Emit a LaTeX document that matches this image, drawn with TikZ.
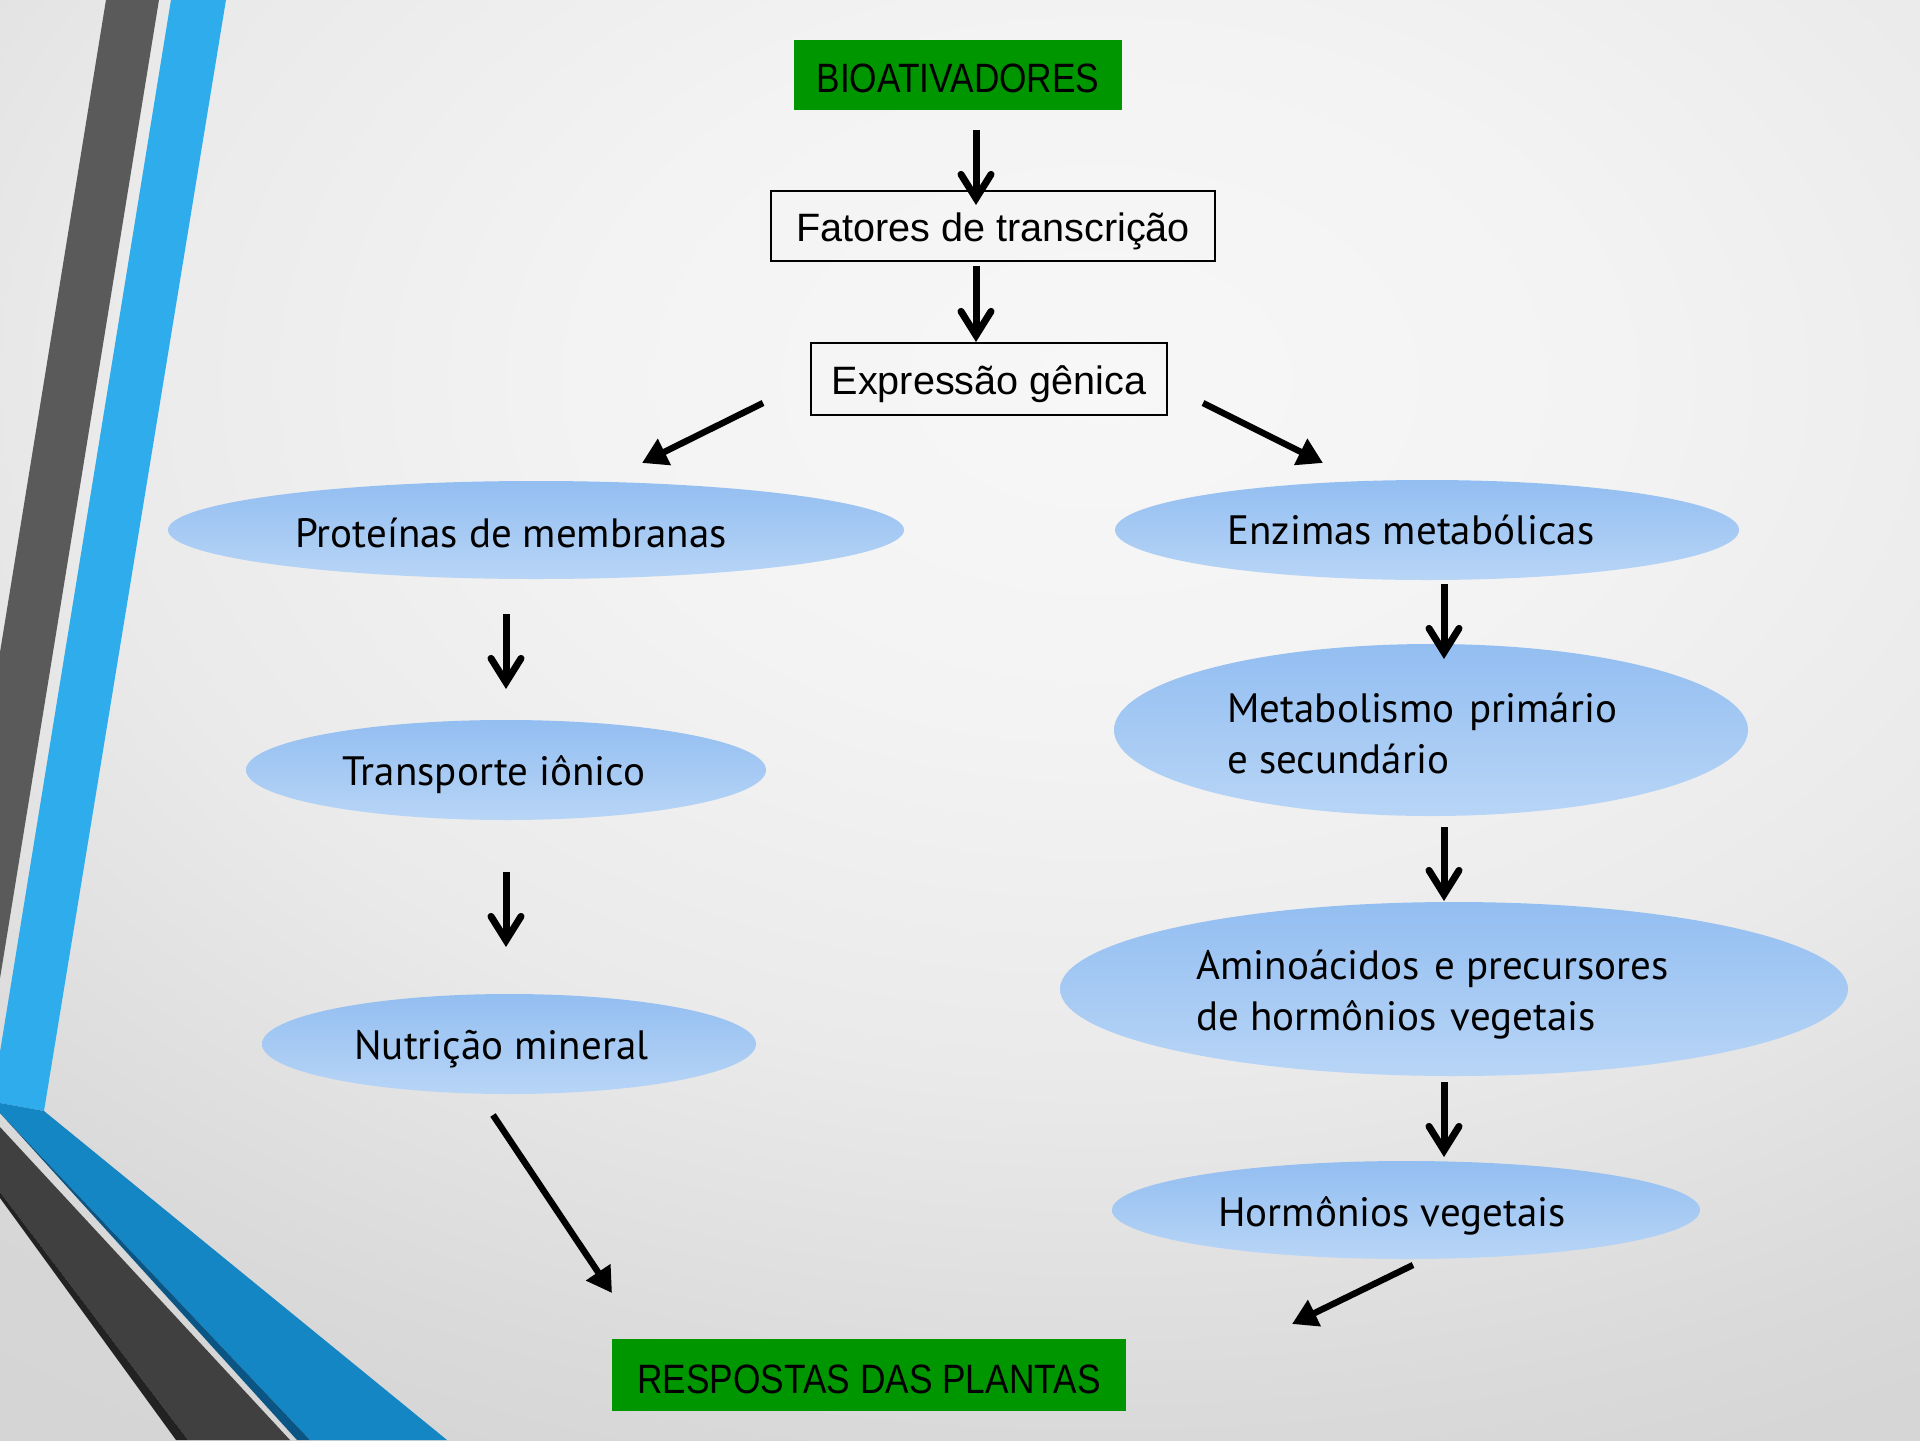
\documentclass[tikz,border=0pt]{standalone}
\usepackage{fontspec}
\setmainfont{PT Sans}
\newfontfamily\boxfont{Liberation Sans}
\newfontfamily\capfont[FakeStretch=0.86]{Liberation Sans}
\usetikzlibrary{arrows.meta,shapes.geometric}

\definecolor{stripeGray}{HTML}{5A5A5A}
\definecolor{stripeBlue}{HTML}{2FACEB}
\definecolor{bandBlue}{HTML}{1386C3}
\definecolor{bandShade}{HTML}{0B5584}
\definecolor{bandGray}{HTML}{404040}
\definecolor{bandDark}{HTML}{222222}
\definecolor{leaf}{HTML}{009600}
\definecolor{ellTop}{HTML}{93BEF1}
\definecolor{ellBot}{HTML}{B8D5F6}

% light page background, brightest in the upper middle
\pgfdeclareradialshading{pageshade}{\pgfpointorigin}{%
  color(0bp)=(rgb,255:red,247;green,247;blue,247);
  color(15bp)=(rgb,255:red,243;green,243;blue,243);
  color(30bp)=(rgb,255:red,234;green,234;blue,234);
  color(45bp)=(rgb,255:red,218;green,218;blue,218);
  color(50bp)=(rgb,255:red,214;green,214;blue,214);
  color(75bp)=(rgb,255:red,210;green,210;blue,210)}

\begin{document}
\begin{tikzpicture}[x=0.5pt,y=-0.5pt,
  bubble/.style={ellipse, inner sep=0pt, top color=ellTop, bottom color=ellBot, draw=none},
  txt/.style={anchor=west, inner sep=0pt, align=left,
    font=\fontsize{20.5pt}{25.5pt}\selectfont},
  frame/.style={draw=black, line width=0.9pt, inner sep=0pt,
    text height=15.5pt, text depth=0pt,
    font=\boxfont\fontsize{19.8pt}{22pt}\selectfont},
  greenbox/.style={fill=leaf, inner sep=0pt, text depth=0pt,
    font=\capfont\fontsize{20.5pt}{24pt}\selectfont},
  vdown/.style={line width=3.5pt,
    -{Straight Barb[length=12pt,width=15pt,line cap=round,line join=miter]}},
  diag/.style={line width=3.2pt, -{Triangle[length=12.5pt,width=14pt]}},
]
\useasboundingbox (0,0) rectangle (1920,1440);

% background
\begin{scope}
\clip (0,0) rectangle (1920,1440);
\begin{scope}
  \pgftransformshift{\pgfpointxy{1100}{380}}
  \pgftransformxscale{16.94}
  \pgftransformyscale{11.46}
  \pgflowlevelsynccm
  \pgfuseshading{pageshade}
\end{scope}

% slanted stripes on the left
\fill[stripeGray] (107.6,-10) -- (160.6,-10) -- (-3.5,1000) -- (-56.5,1000) -- cycle;
\fill[stripeBlue] (172.6,-10) -- (227.6,-10) -- (44,1111) -- (0,1103) -- (0,1052) -- cycle;

% bands at the lower left corner
\fill[bandBlue] (0,1103) -- (44,1111) -- (447,1440) -- (310,1440) -- (0,1113) -- cycle;
\fill[bandShade] (0,1113) -- (310,1440) -- (297,1440) -- cycle;
\fill[bandGray] (0,1127) -- (290,1440) -- (188,1440) -- (0,1192) -- cycle;
\fill[bandDark] (0,1192) -- (188,1440) -- (176,1440) -- (0,1198) -- cycle;
\end{scope}

% boxes
\node[greenbox, text height=17.2pt, minimum width=164pt, minimum height=35pt] (bio) at (958,75) {BIOATIVADORES};
\node[frame, minimum width=222pt, minimum height=35pt] (fat) at (993,226) {Fatores de transcrição};
\node[frame, minimum width=178pt, minimum height=36pt] (exp) at (989,379) {Expressão gênica};
\node[greenbox, text height=18.5pt, minimum width=257pt, minimum height=36pt] (resp) at (869,1375) {RESPOSTAS DAS PLANTAS};

% left branch
\node[bubble, minimum width=368pt, minimum height=49pt] (prot) at (536,530) {};
\node[txt] (prot-t) at (295,533) {Proteínas de membranas};
\node[bubble, minimum width=260pt, minimum height=50pt] (trans) at (506,770) {};
\node[txt] (trans-t) at (342,775) {Transporte iônico};
\node[bubble, minimum width=247pt, minimum height=50pt] (nutr) at (509,1044) {};
\node[txt] (nutr-t) at (354,1049) {Nutrição mineral};

% right branch
\node[bubble, minimum width=312pt, minimum height=50pt] (enz) at (1427,530) {};
\node[txt] (enz-t) at (1227,530) {Enzimas metabólicas};
\node[bubble, minimum width=317pt, minimum height=86pt] (meta) at (1431,730) {};
\node[txt] (meta-t) at (1227,733.5) {Metabolismo\hspace{0.1em} primário\\e secundário};
\node[bubble, minimum width=394pt, minimum height=87pt] (amino) at (1454,989) {};
\node[txt] (amino-t) at (1196,995) {Aminoácidos\hspace{0.08em} e precursores\\de hormônios\hspace{0.08em} vegetais};
\node[bubble, minimum width=294pt, minimum height=49pt] (horm) at (1406,1210) {};
\node[txt] (horm-t) at (1218,1216) {Hormônios vegetais};

% arrow end points in the gaps between the shapes
\coordinate (a1s) at (976,130);  \coordinate (a1e) at (976,205);
\coordinate (a2s) at (976,266);  \coordinate (a2e) at (976,342);
\coordinate (a3s) at (763,403);  \coordinate (a3e) at (642,463);
\coordinate (a4s) at (1203,403); \coordinate (a4e) at (1323,463);
\coordinate (a5s) at (506,614);  \coordinate (a5e) at (506,689);
\coordinate (a6s) at (506,872);  \coordinate (a6e) at (506,947);
\coordinate (a7s) at (493,1115); \coordinate (a7e) at (612,1293);
\coordinate (a8s) at (1444,584); \coordinate (a8e) at (1444,659);
\coordinate (a9s) at (1444,827); \coordinate (a9e) at (1444,901);
\coordinate (a10s) at (1444,1082); \coordinate (a10e) at (1444,1157);
\coordinate (a11s) at (1413,1265); \coordinate (a11e) at (1292,1324);

\draw[vdown] (a1s) -- (a1e);
\draw[vdown] (a2s) -- (a2e);
\draw[diag] (a3s) -- (a3e);
\draw[diag] (a4s) -- (a4e);
\draw[vdown] (a5s) -- (a5e);
\draw[vdown] (a6s) -- (a6e);
\draw[diag] (a7s) -- (a7e);
\draw[vdown] (a8s) -- (a8e);
\draw[vdown] (a9s) -- (a9e);
\draw[vdown] (a10s) -- (a10e);
\draw[diag] (a11s) -- (a11e);
\end{tikzpicture}
\end{document}
